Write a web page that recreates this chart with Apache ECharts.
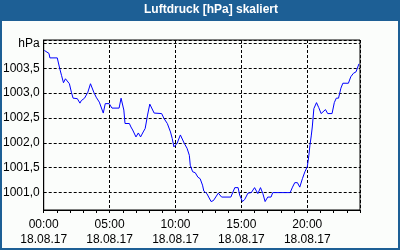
<!DOCTYPE html>
<html>
<head>
<meta charset="utf-8">
<script src="https://cdn.jsdelivr.net/npm/echarts@6/dist/echarts.min.js"></script>
<style>
html,body{margin:0;padding:0;background:#fff;}
#chart{width:400px;height:250px;}
</style>
</head>
<body>
<div id="chart"></div>
<script>
var chartTitle = 'Luftdruck [hPa] skaliert';
var dateLabel = '18.08.17';
var unitLabel = 'hPa';
var xLabelHours = [0, 5, 10, 15, 20];
var yTicks = [1001.0, 1001.5, 1002.0, 1002.5, 1003.0, 1003.5, 1004.0];
// time in hours since 00:00
var hours = [0.05,0.20,0.40,0.47,1.03,1.22,1.35,1.50,1.65,1.80,1.95,2.10,2.23,2.55,2.75,2.85,3.10,3.35,3.55,3.67,3.80,3.98,4.22,4.52,4.67,4.97,5.18,5.72,5.87,6.08,6.17,6.50,6.62,6.75,7.00,7.18,7.35,7.55,7.70,7.88,8.05,8.20,8.38,8.95,9.13,9.38,9.62,9.75,9.88,10.00,10.12,10.37,10.50,10.67,10.88,11.05,11.12,11.30,11.50,11.70,11.87,12.05,12.15,12.38,12.70,12.88,13.25,13.37,13.50,14.20,14.50,14.75,14.87,15.08,15.25,15.50,15.75,16.00,16.25,16.45,16.63,16.80,17.00,17.25,17.38,18.70,18.88,19.05,19.25,19.43,19.63,19.82,20.00,20.12,20.20,20.30,20.38,20.50,20.70,20.87,21.05,21.20,21.38,21.55,21.88,22.05,22.20,22.37,22.55,22.70,23.12,23.30,23.50,23.70,23.92];
var pressure = [1003.86,1003.83,1003.80,1003.71,1003.71,1003.49,1003.36,1003.21,1003.29,1003.29,1003.19,1003.02,1002.90,1002.89,1002.80,1002.85,1002.90,1003.02,1003.19,1003.19,1003.02,1002.92,1002.82,1002.60,1002.79,1002.79,1002.70,1002.70,1002.90,1002.66,1002.39,1002.39,1002.32,1002.26,1002.12,1002.20,1002.12,1002.22,1002.29,1002.56,1002.78,1002.78,1002.60,1002.59,1002.49,1002.39,1002.22,1002.09,1001.92,1001.89,1001.99,1002.16,1002.20,1001.99,1001.89,1001.75,1001.55,1001.42,1001.40,1001.31,1001.28,1001.15,1001.03,1000.98,1000.82,1000.84,1000.99,1000.99,1000.91,1000.91,1001.10,1001.10,1000.95,1000.82,1000.86,1000.99,1001.00,1001.10,1000.98,1001.10,1000.98,1000.82,1000.91,1000.91,1001.00,1001.00,1001.11,1001.20,1001.20,1001.11,1001.28,1001.42,1001.52,1001.75,1001.95,1002.14,1002.32,1002.69,1002.81,1002.71,1002.59,1002.59,1002.67,1002.59,1002.59,1002.81,1002.90,1002.90,1003.10,1003.20,1003.20,1003.33,1003.40,1003.43,1003.59];

var seriesData = hours.map(function (h, i) { return [h, pressure[i]]; });
var FONT = 'Liberation Sans, Arial, sans-serif';

function pad(n){ return (n < 10 ? '0' : '') + n; }

var chart = echarts.init(document.getElementById('chart'), null, {renderer: 'canvas'});
chart.setOption({
  animation: false,
  backgroundColor: '#1d5f95',
  graphic: [{
    type: 'rect', z: -10, silent: true,
    shape: {x: 2, y: 21, width: 396, height: 227},
    style: {fill: '#fbfdfb'}
  }],
  title: {
    text: chartTitle,
    left: 211, top: 4, padding: 0,
    textAlign: 'center',
    textStyle: {color: '#fff', fontSize: 12, fontWeight: 'bold', fontFamily: FONT}
  },
  grid: {
    left: 40, right: 40, top: 40, bottom: 40,
    show: true, borderColor: '#000', borderWidth: 1, backgroundColor: 'transparent',
    containLabel: false
  },
  xAxis: [{
    type: 'value', min: 0, max: 24, interval: 5,
    axisLine: {show: true, lineStyle: {color: '#000', width: 1}},
    axisTick: {show: false},
    splitLine: {show: true, lineStyle: {color: '#000', type: [3, 2], width: 1}},
    axisLabel: {
      color: '#000', fontSize: 12, fontFamily: FONT, margin: 7, lineHeight: 15,
      showMaxLabel: false,
      formatter: function (v) {
        if (xLabelHours.indexOf(v) < 0) return '';
        return pad(v) + ':00\n' + dateLabel;
      }
    }
  }, {
    type: 'value', min: 0, max: 24, interval: 1, position: 'bottom',
    axisLine: {show: false},
    axisTick: {show: true, length: 3, inside: false, lineStyle: {color: '#000', width: 1}},
    axisLabel: {show: false},
    splitLine: {show: false}
  }],
  yAxis: {
    type: 'value', min: 1000.65, max: 1004.07, minInterval: 0.5, maxInterval: 0.5,
    axisLine: {show: true, lineStyle: {color: '#000', width: 1}},
    axisTick: {show: false},
    splitLine: {show: true, lineStyle: {color: '#000', type: [3, 2], width: 1}},
    axisLabel: {
      color: '#000', fontSize: 12, fontFamily: FONT, margin: 4,
      showMinLabel: false, showMaxLabel: false,
      formatter: function (v) {
        if (Math.abs(v - yTicks[yTicks.length - 1]) < 1e-6) return unitLabel;
        return v.toFixed(1).replace('.', ',');
      }
    }
  },
  series: [{
    type: 'line', xAxisIndex: 0, data: seriesData,
    showSymbol: false, symbol: 'none',
    lineStyle: {color: '#0000ff', width: 1},
    silent: true
  }]
});
</script>
</body>
</html>
